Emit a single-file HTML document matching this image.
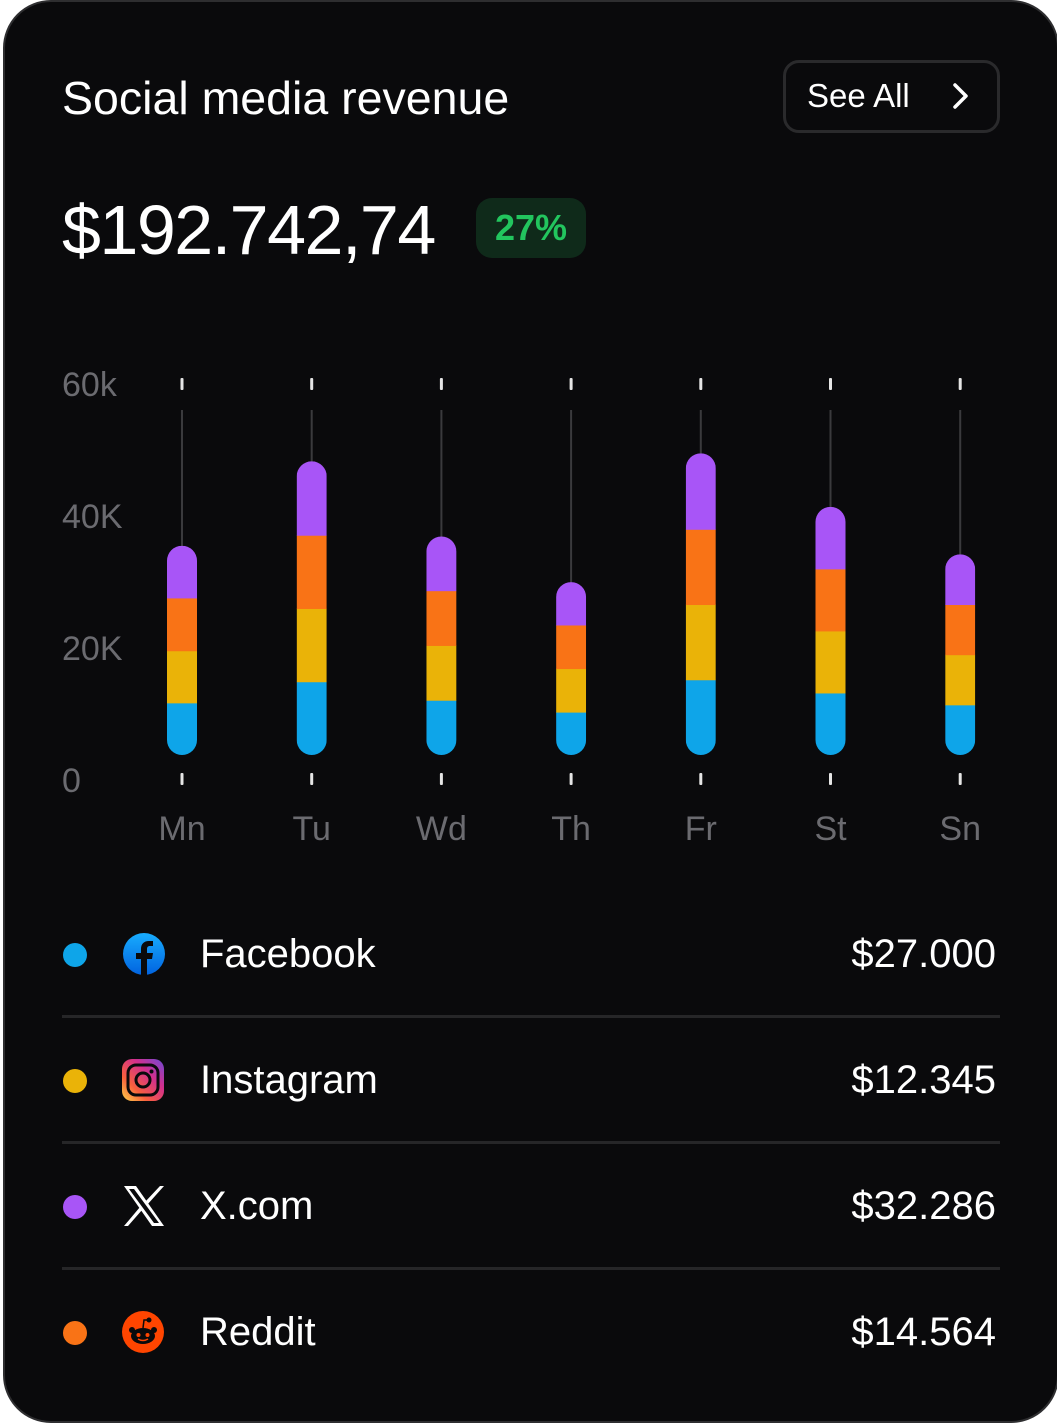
<!DOCTYPE html>
<html><head><meta charset="utf-8"><style>
html,body{margin:0;padding:0;background:#fff;}
body{width:1057px;height:1422px;position:relative;overflow:hidden;font-family:"Liberation Sans",sans-serif;}
.card{position:absolute;left:3px;top:0;width:1052px;height:1419px;background:#0a0a0c;border:2px solid #2e2e30;border-radius:48px;}
.abs{position:absolute;}
.title{left:62px;top:71px;color:#fff;font-size:46.5px;}
.btn{left:783px;top:60px;width:211px;height:67px;border:3px solid #2a2a2c;border-radius:16px;color:#fff;font-size:33px;}
.total{left:62px;top:190px;color:#fff;font-size:70px;letter-spacing:-1.5px;}
.badge{left:476px;top:198px;width:110px;height:60px;background:#0f2a1a;border-radius:16px;color:#22c55e;font-size:36px;font-weight:bold;text-align:center;line-height:60px;}
.row{left:60px;width:940px;height:126px;}
.dot{position:absolute;left:3px;width:24px;height:24px;border-radius:50%;}
.name{position:absolute;left:140px;color:#fff;font-size:40px;}
.val{position:absolute;right:4px;color:#fff;font-size:40px;}
.sep{left:62px;width:938px;height:3px;background:#262628;}
</style></head><body>
<div class="card"></div>
<div class="abs title">Social media revenue</div>
<div class="abs btn"><span class="abs" style="left:21px;top:14px">See All</span>
<svg class="abs" style="left:160px;top:18px" width="30" height="30"><path d="M9 4 L20 15 L9 26" stroke="#fff" stroke-width="3.5" fill="none" stroke-linecap="round" stroke-linejoin="round"/></svg></div>
<div class="abs total">$192.742,74</div>
<div class="abs badge">27%</div>

<svg id="chart" class="abs" style="left:0;top:350px" width="1057" height="510"></svg>

<div class="abs row" style="top:892px">
<div class="dot" style="top:51px;background:#0ea5e9"></div>
<svg class="abs" style="left:62px;top:40px" width="44" height="44"><defs><linearGradient id="fb" x1="0" y1="0" x2="0" y2="1"><stop offset="0" stop-color="#18acfe"/><stop offset="1" stop-color="#0163e0"/></linearGradient></defs><circle cx="22" cy="22" r="21" fill="url(#fb)"/><path d="M25 44 V27 H30 L31 21 H25 V17 C25 15 26 14 28 14 H31 V9 H27 C22 9 19 12 19 17 V21 H14 V27 H19 V44 Z" fill="#0a0a0c"/></svg>
<div class="name" style="top:40px">Facebook</div><div class="val" style="top:40px">$27.000</div></div>
<div class="abs sep" style="top:1015px"></div>
<div class="abs row" style="top:1018px">
<div class="dot" style="top:51px;background:#eab308"></div>
<svg class="abs" style="left:62px;top:41px" width="42" height="42"><defs><linearGradient id="ig" x1="0" y1="1" x2="1" y2="0"><stop offset="0" stop-color="#fdd54a"/><stop offset="0.3" stop-color="#f9603d"/><stop offset="0.65" stop-color="#d22f8e"/><stop offset="1" stop-color="#6d4ad8"/></linearGradient></defs><rect width="42" height="42" rx="10" fill="url(#ig)"/><rect x="6" y="6" width="30" height="30" rx="8" fill="none" stroke="#0a0a0c" stroke-width="3"/><circle cx="21" cy="21" r="7" fill="none" stroke="#0a0a0c" stroke-width="3"/><circle cx="29.5" cy="12.5" r="2" fill="#0a0a0c"/></svg>
<div class="name" style="top:40px">Instagram</div><div class="val" style="top:40px">$12.345</div></div>
<div class="abs sep" style="top:1141px"></div>
<div class="abs row" style="top:1144px">
<div class="dot" style="top:51px;background:#a855f7"></div>
<svg class="abs" style="left:63px;top:42px" width="42" height="40"><path d="M1 0 H13 L41 40 H29 Z" fill="#fff"/><path d="M6 3 H11 L36 37 H31 Z" fill="#0a0a0c"/><path d="M37 0 H41 L24 19 L22 16 Z M1 40 H5 L19 24 L17 21 Z" fill="#fff"/></svg>
<div class="name" style="top:40px">X.com</div><div class="val" style="top:40px">$32.286</div></div>
<div class="abs sep" style="top:1267px"></div>
<div class="abs row" style="top:1270px">
<div class="dot" style="top:51px;background:#f97316"></div>
<svg class="abs" style="left:62px;top:41px" width="42" height="42"><circle cx="21" cy="21" r="21" fill="#ff4500"/><ellipse cx="21" cy="25" rx="12" ry="8" fill="#0a0a0c"/><circle cx="10" cy="19" r="3" fill="#0a0a0c"/><circle cx="32" cy="19" r="3" fill="#0a0a0c"/><circle cx="27" cy="9" r="2.5" fill="#0a0a0c"/><path d="M21 17 L22 9 L27 9" stroke="#0a0a0c" stroke-width="1.5" fill="none"/><circle cx="16.5" cy="24" r="2" fill="#ff4500"/><circle cx="25.5" cy="24" r="2" fill="#ff4500"/><path d="M16 28 Q21 31 26 28" stroke="#ff4500" stroke-width="1.5" fill="none"/></svg>
<div class="name" style="top:40px">Reddit</div><div class="val" style="top:40px">$14.564</div></div>

<script>
const days = ["Mn","Tu","Wd","Th","Fr","St","Sn"];
const facebook = [7.9,11.1,8.3,6.5,11.4,9.4,7.6];
const instagram = [7.9,11.1,8.3,6.6,11.4,9.4,7.6];
const reddit = [8.0,11.1,8.3,6.6,11.4,9.4,7.6];
const xcom = [7.9,11.2,8.2,6.5,11.5,9.4,7.6];
const yTicks = [0,20,40,60];
const yTickLabels = ["0","20K","40K","60k"];
const seriesColors = ["#0ea5e9","#eab308","#f97316","#a855f7"];
const NS="http://www.w3.org/2000/svg";
const svg=document.getElementById('chart');
const OY=350;
function y(v){return 755-OY - v*6.6;}
function x(i){return 182+i*129.7;}
function mk(t,a){const e=document.createElementNS(NS,t);for(const k in a)e.setAttribute(k,a[k]);svg.appendChild(e);return e;}
yTicks.forEach((t,i)=>{
  const e=mk('text',{x:62,y:780-OY+12 - t*6.6,fill:'#6b6b70','font-size':34,'font-family':'Liberation Sans, sans-serif'});
  e.textContent=yTickLabels[i];
  
  
});
const series=[facebook,instagram,reddit,xcom];
days.forEach((d,i)=>{
  const cx=x(i);
  const tot=series.reduce((s,a)=>s+a[i],0);
  const t1=mk('rect',{x:cx-1.5,y:378-OY,width:3,height:12,fill:'#e5e5e5',rx:1});
  
  
  const t2=mk('rect',{x:cx-1.5,y:773-OY,width:3,height:12,fill:'#e5e5e5',rx:1});
  
  
  const ln=mk('line',{x1:cx,x2:cx,y1:410-OY,y2:y(tot)+10,stroke:'#3a3a3d','stroke-width':2});
  
  
  const cid='clip'+i;
  const cp=document.createElementNS(NS,'clipPath');cp.setAttribute('id',cid);
  const cr=document.createElementNS(NS,'rect');
  cr.setAttribute('x',cx-15);cr.setAttribute('y',y(tot));cr.setAttribute('width',30);cr.setAttribute('height',y(0)-y(tot));cr.setAttribute('rx',15);
  cp.appendChild(cr);svg.appendChild(cp);
  const g=document.createElementNS(NS,'g');g.setAttribute('clip-path','url(#'+cid+')');svg.appendChild(g);
  let acc=0;
  series.forEach((s,k)=>{
    const r=document.createElementNS(NS,'rect');
    r.setAttribute('x',cx-15);r.setAttribute('width',30);
    r.setAttribute('y',y(acc+s[i]));r.setAttribute('height',y(acc)-y(acc+s[i])+0.5);
    r.setAttribute('fill',seriesColors[k]);
    
    
    g.appendChild(r);acc+=s[i];
  });
  const lb=mk('text',{x:cx,y:840-OY,fill:'#6b6b70','font-size':34,'text-anchor':'middle','font-family':'Liberation Sans, sans-serif'});
  lb.textContent=d;
  
  
});
</script>
</body></html>
